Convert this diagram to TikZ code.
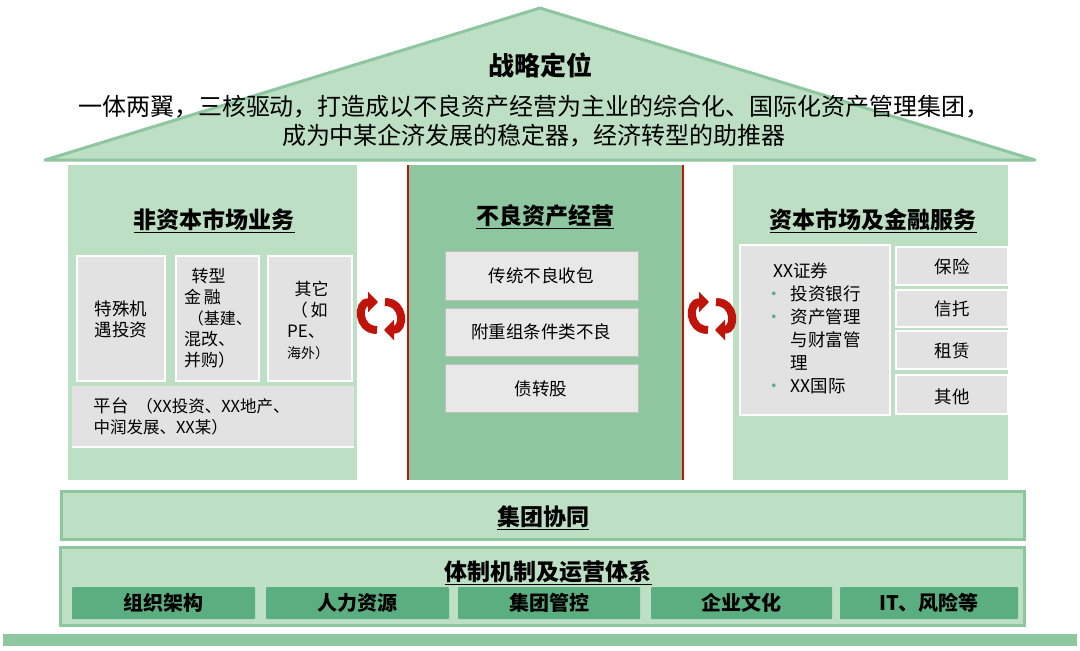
\documentclass[tikz,border=0pt]{standalone}
\usepackage{fontspec}
\setmainfont{Noto Sans CJK SC}
\usetikzlibrary{arrows.meta}
\definecolor{lg}{HTML}{BDDFC4}
\definecolor{mg}{HTML}{8EC6A0}
\definecolor{dg}{HTML}{5BAE80}
\definecolor{gr}{HTML}{E2E2E2}
\definecolor{rd}{HTML}{C0140A}
\tikzset{
 col/.style={fill=lg,draw=none},
 gbox/.style={fill=gr,draw=white,line width=1.5},
 mbox/.style={fill=gr!80!white,draw=black!25,line width=0.6},
 ttl/.style={font=\fontsize{23}{26}\selectfont\bfseries},
 txt/.style={font=\fontsize{17.5}{21}\selectfont,align=center},
 cyc/.style={draw=rd,line width=8,-{Triangle[length=10,width=20]}},
}
\begin{document}
\begin{tikzpicture}[x=1pt,y=-1pt]
\useasboundingbox (0,0) rectangle (1080,651);
% roof
\filldraw[fill=lg,draw=mg,line width=3,line join=round] (45,160) -- (540,8) -- (1035,160) -- cycle;
\node[ttl,font=\fontsize{26}{28}\selectfont\bfseries] (t0) at (540,65) {战略定位};
\node[font=\fontsize{24}{29}\selectfont,align=center] (t1) at (534,121) {一体两翼，三核驱动，打造成以不良资产经营为主业的综合化、国际化资产管理集团，\\成为中某企济发展的稳定器，经济转型的助推器};
% columns
\fill[col] (68,165) rectangle (357,480);
\fill[fill=mg] (408,165) rectangle (683,480);
\draw[rd,line width=1.5] (408,165) -- (408,480) (683,165) -- (683,480);
\fill[col] (733,165) rectangle (1008,480);
\node[ttl] (c1) at (214,221) {\underline{非资本市场业务}};
\node[ttl] (c2) at (545,217) {\underline{不良资产经营}};
\node[ttl] (c3) at (873,221) {\underline{资本市场及金融服务}};
% left boxes
\draw[gbox] (77,256) rectangle (165,381);
\node[txt] (l1) at (121,319) {特殊机\\遇投资};
\draw[gbox] (176,256) rectangle (259,381);
\node[txt,align=left,font=\fontsize{17}{21}\selectfont] (l2) at (218,318) {\ \ 转型\\金\,融\\\ {\fontsize{16}{21}\selectfont（基建、}\\混改、\\并购）};
\draw[gbox] (268,256) rectangle (352,381);
\node[txt,align=left,font=\fontsize{17}{21}\selectfont] (l3) at (308,320) {\ \ 其它\\\ （\,如\\PE、\\{\fontsize{14}{18}\selectfont 海外）}};
\fill[gr] (72,386) rectangle (354,447);
\draw[white,line width=1.5] (72,447) -- (354,447);
\node[txt,align=left,anchor=west] (l4) at (90,416) {平台\ \ {\itshape\fontsize{16.5}{21}\selectfont（XX投资、XX地产、}\\{\itshape\fontsize{16.5}{21}\selectfont 中润发展、XX某）}};
% middle boxes
\draw[mbox] (445,251) rectangle (638,300); \node[txt] (m1) at (541,276) {传统不良收包};
\draw[mbox] (445,308) rectangle (638,356); \node[txt] (m2) at (541,332) {附重组条件类不良};
\draw[mbox] (445,364) rectangle (638,412); \node[txt] (m3) at (541,389) {债转股};
% right boxes
\draw[gbox] (740,245) rectangle (890,415);
\node[txt,align=left,anchor=north west,font=\fontsize{17.5}{23}\selectfont] (r1) at (762,259) {\ \ XX证券\\{\color{dg}\textbullet}\ \ 投资银行\\{\color{dg}\textbullet}\ \ 资产管理\\\phantom{\textbullet}\ \ 与财富管\\\phantom{\textbullet}\ \ 理\\{\color{dg}\textbullet}\ \ XX国际};
\draw[gbox] (896,247) rectangle (1008,285); \node[txt] (r2) at (952,267) {保险};
\draw[gbox] (896,290) rectangle (1008,327); \node[txt] (r3) at (952,309) {信托};
\draw[gbox] (896,331) rectangle (1008,369); \node[txt] (r4) at (952,351) {租赁};
\draw[gbox] (896,375) rectangle (1008,414); \node[txt] (r5) at (952,397) {其他};
% cycle arrows
\foreach \cx/\nm in {381/a,712/b}{
  \coordinate (\nm s1) at (\cx-4,330);
  \coordinate (\nm e1) at (\cx-3,302);
  \coordinate (\nm s2) at (\cx+4,302);
  \coordinate (\nm e2) at (\cx+3,330);
  \draw[cyc] (\nm s1) .. controls (\cx-24,330) and (\cx-24,302) .. (\nm e1);
  \draw[cyc] (\nm s2) .. controls (\cx+24,302) and (\cx+24,330) .. (\nm e2);
}
% bands
\filldraw[fill=lg,draw=mg,line width=3] (61,491) rectangle (1024,539);
\node[ttl] (g1) at (543,518) {\underline{集团协同}};
\filldraw[fill=lg,draw=mg,line width=3] (60,547) rectangle (1024,625);
\node[ttl] (g2) at (548,573) {\underline{体制机制及运营体系}};
\foreach \a/\b/\t/\n in {72/255/组织架构/o1,266/449/人力资源/o2,458/640/集团管控/o3,651/832/企业文化/o4,840/1018/IT、风险等/o5}{
  \fill[dg,rounded corners=1] (\a,587) rectangle (\b,619);
  \node[font=\fontsize{20}{22}\selectfont\bfseries] (\n) at ({(\a+\b)/2},603) {\t};
}
\fill[mg] (3,634) rectangle (1077,646);
\end{tikzpicture}
\end{document}
